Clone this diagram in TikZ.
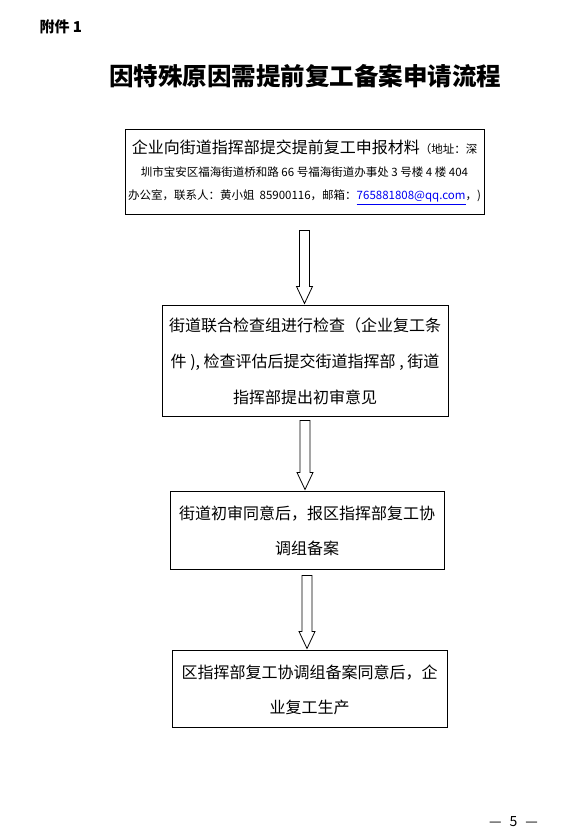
\documentclass[tikz,border=0pt]{standalone}
\usepackage{fontspec}
\setmainfont{Noto Sans CJK SC}
\usetikzlibrary{calc}
\definecolor{maillink}{rgb}{0.0, 0.0, 0.95}

% hollow block arrow: upper node, lower node, gap below the upper node
\newcommand{\hollowarrow}[3]{%
  \draw[line width=0.8pt] let \p1=($(#1.south)+(0,-#3)$), \p2=($(#2.north)+(0,2)$) in
    (\x1-5,\y1) -- (\x1-5,\y2+17) -- (\x1-8,\y2+17) -- (\x1,\y2)
    -- (\x1+8,\y2+17) -- (\x1+5,\y2+17) -- (\x1+5,\y1) -- cycle;}

\begin{document}
\begin{tikzpicture}[x=1pt, y=1pt,
    flowbox/.style={draw, line width=1pt, align=center, inner sep=0pt,
      font=\fontsize{16}{36}\selectfont}]
    \useasboundingbox (0,0) rectangle (561,838);
    \node[anchor=west, font=\fontsize{15}{15}\selectfont\bfseries] (annex) at (36,811) {附件 1};
    \node[font=\fontsize{24.5}{24.5}\selectfont\bfseries] (title) at (305,762) {因特殊原因需提前复工备案申请流程};
    \node[flowbox, minimum width=359, minimum height=85, font=\fontsize{11.5}{23}\selectfont] (apply) at (304.5,665.5)
        {{\fontsize{16}{23}\selectfont 企业向街道指挥部提交提前复工申报材料}（地址：深\\
         圳市宝安区福海街道桥和路 66 号福海街道办事处 3 号楼 4 楼 404\\
         办公室，联系人：黄小姐\ \ 85900116，邮箱：\textcolor{maillink}{\underline{765881808@qq.com}}，)};
    \node[flowbox, minimum width=286, minimum height=111] (check) at (305,476.5)
        {街道联合检查组进行检查（企业复工条\\件 ), 检查评估后提交街道指挥部 , 街道\\指挥部提出初审意见};
    \node[flowbox, minimum width=274, minimum height=78, font=\fontsize{16}{35}\selectfont] (review) at (307,307)
        {街道初审同意后，报区指挥部复工协\\调组备案};
    \node[flowbox, minimum width=275, minimum height=77, font=\fontsize{16}{35}\selectfont] (record) at (309.5,148.5)
        {区指挥部复工协调组备案同意后，企\\业复工生产};
    \hollowarrow{apply}{check}{15}
    \hollowarrow{check}{review}{3}
    \hollowarrow{review}{record}{5}
    \node[font=\fontsize{14}{14}\selectfont] (pageno) at (513.5,16) {—\hspace{8pt}5\hspace{8pt}—};
\end{tikzpicture}
\end{document}
